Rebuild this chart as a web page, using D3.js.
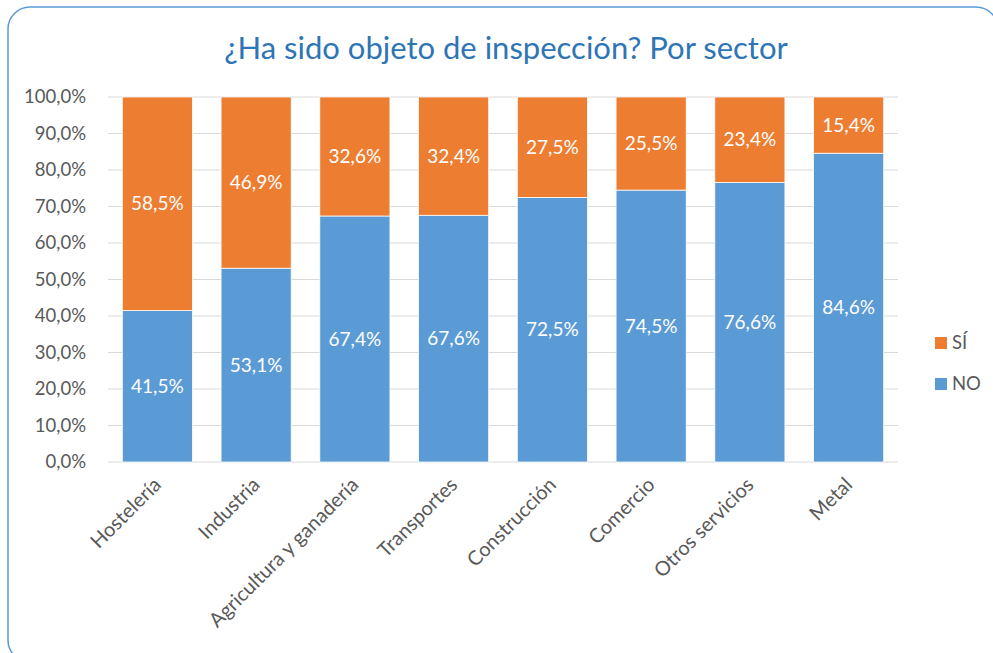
<!DOCTYPE html>
<html>
<head>
<meta charset="utf-8">
<script src="https://cdn.jsdelivr.net/npm/d3@7"></script>
<style>
  body { margin: 0; background: #fff; }
  svg text { font-family: Lato, "Open Sans", sans-serif; }
</style>
</head>
<body>
<svg id="chart" width="993" height="653"></svg>
<script>
// data
const sectors = ['Hostelería', 'Industria', 'Agricultura y ganadería', 'Transportes',
  'Construcción', 'Comercio', 'Otros servicios', 'Metal'];
const noValues = [41.5, 53.1, 67.4, 67.6, 72.5, 74.5, 76.6, 84.6];
const siValues = [58.5, 46.9, 32.6, 32.4, 27.5, 25.5, 23.4, 15.4];
const yTicks = [0, 10, 20, 30, 40, 50, 60, 70, 80, 90, 100];
const seriesNames = ['SÍ', 'NO'];

const blue = '#5B9BD5', orange = '#ED7D31';
const svg = d3.select('#chart');

// outer rounded frame
svg.append('rect')
  .attr('x', 8).attr('y', 7).attr('width', 990).attr('height', 655)
  .attr('rx', 22).attr('ry', 22)
  .attr('fill', 'none').attr('stroke', blue).attr('stroke-width', 1.5);

svg.append('text')
  .attr('x', 506).attr('y', 59)
  .attr('text-anchor', 'middle')
  .attr('font-size', 31).attr('fill', '#2E75B6')
  .text('¿Ha sido objeto de inspección? Por sector');

const x = d3.scaleBand().domain(sectors).range([108, 898]).paddingInner(0.29).paddingOuter(0.145);
const y = d3.scaleLinear().domain([0, 100]).range([462, 97]);
const fmt = v => d3.format('.1f')(v).replace('.', ',') + '%';

// gridlines
svg.append('g').selectAll('line').data(yTicks).join('line')
  .attr('x1', 108).attr('x2', 898)
  .attr('y1', d => y(d)).attr('y2', d => y(d))
  .attr('stroke', '#D9D9D9').attr('stroke-width', 1);

// y axis labels
const yAxis = svg.append('g').attr('transform', 'translate(98,0)')
  .call(d3.axisLeft(y).tickValues(yTicks).tickSize(0).tickPadding(12).tickFormat(fmt));
yAxis.select('.domain').remove();
yAxis.selectAll('text').attr('font-size', 18.5).attr('fill', '#595959').style('font-family', 'Lato, "Open Sans", sans-serif');

// bars
const bars = svg.append('g');
bars.selectAll('rect.no').data(sectors).join('rect').attr('class', 'no')
  .attr('x', d => x(d)).attr('width', x.bandwidth())
  .attr('y', (d, i) => y(noValues[i])).attr('height', (d, i) => y(0) - y(noValues[i]))
  .attr('fill', blue).attr('stroke', '#fff').attr('stroke-width', 0.75);
bars.selectAll('rect.si').data(sectors).join('rect').attr('class', 'si')
  .attr('x', d => x(d)).attr('width', x.bandwidth())
  .attr('y', (d, i) => y(noValues[i] + siValues[i])).attr('height', (d, i) => y(noValues[i]) - y(noValues[i] + siValues[i]))
  .attr('fill', orange).attr('stroke', '#fff').attr('stroke-width', 0.75);

// value labels
const labels = svg.append('g').attr('fill', '#fff').attr('font-size', 19).attr('text-anchor', 'middle');
labels.selectAll('text.no').data(sectors).join('text').attr('class', 'no')
  .attr('x', d => x(d) + x.bandwidth() / 2)
  .attr('y', (d, i) => y(noValues[i] / 2)).attr('dy', '0.35em')
  .text((d, i) => fmt(noValues[i]));
labels.selectAll('text.si').data(sectors).join('text').attr('class', 'si')
  .attr('x', d => x(d) + x.bandwidth() / 2)
  .attr('y', (d, i) => y(noValues[i] + siValues[i] / 2)).attr('dy', '0.35em')
  .text((d, i) => fmt(siValues[i]));

// x category labels, rotated
svg.append('g').selectAll('text').data(sectors).join('text')
  .attr('transform', d => `translate(${x(d) + x.bandwidth() / 2 + 5},${y(0) + 24}) rotate(-45)`)
  .attr('text-anchor', 'end')
  .attr('font-size', 20).attr('fill', '#595959')
  .text(d => d);

// legend
const leg = svg.append('g');
leg.selectAll('rect').data(seriesNames).join('rect')
  .attr('x', 935).attr('y', (d, i) => 337 + i * 41).attr('width', 12).attr('height', 12)
  .attr('fill', (d, i) => i === 0 ? orange : blue);
leg.selectAll('text').data(seriesNames).join('text')
  .attr('x', 952).attr('y', (d, i) => 343 + i * 41).attr('dy', '0.35em')
  .attr('font-size', 18.5).attr('fill', '#595959')
  .text(d => d);
</script>
</body>
</html>
